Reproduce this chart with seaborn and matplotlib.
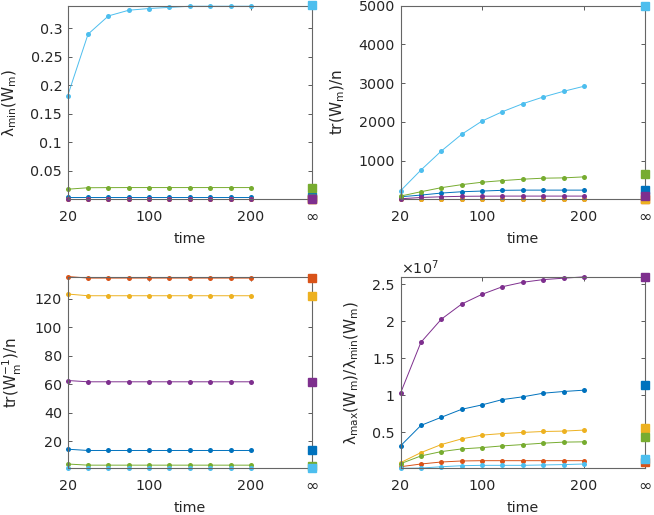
import numpy as np
import pandas as pd
import seaborn as sns
import matplotlib
matplotlib.use('Agg')
import matplotlib.pyplot as plt
from matplotlib.ticker import FuncFormatter

# time steps and the "infinity" position on the x axis
times = [20, 40, 60, 80, 100, 120, 140, 160, 180, 200]
t_inf = 260
series = ['s1', 's2', 's3', 's4', 's5', 's6']
colors = ['#0072BD', '#D95319', '#EDB120', '#7E2F8E', '#77AC30', '#4DBEEE']

# lambda_min(W_m)
lmin = {
    's1': [0.0044] * 10,
    's2': [0.0012] * 10,
    's3': [0.0013] * 10,
    's4': [0.0016] * 10,
    's5': [0.0179, 0.0205, 0.0207, 0.0208, 0.0208, 0.0208, 0.0208, 0.0208, 0.0208, 0.0208],
    's6': [0.182, 0.290, 0.322, 0.332, 0.335, 0.337, 0.339, 0.339, 0.339, 0.339],
}
lmin_inf = [0.0046, 0.0012, 0.0013, 0.0015, 0.0208, 0.3405]

# tr(W_m)/n
trw = {
    's1': [68, 112, 164, 198, 216, 235, 240, 240, 240, 240],
    's2': [4] * 10,
    's3': [5] * 10,
    's4': [16, 50, 68, 80, 84, 86, 86, 86, 86, 86],
    's5': [86, 198, 303, 381, 444, 486, 522, 548, 556, 582],
    's6': [222, 757, 1248, 1680, 2023, 2264, 2470, 2643, 2790, 2920],
}
trw_inf = [235, 3, 3, 94, 661, 5000]

# tr(W_m^-1)/n
trinv = {
    's1': [14.4] + [13.5] * 9,
    's2': [135.6] + [134.5] * 9,
    's3': [123.3] + [122.1] * 9,
    's4': [62.6] + [61.7] * 9,
    's5': [4.0] + [3.2] * 9,
    's6': [1.1] * 10,
}
trinv_inf = [13.5, 134.2, 122.0, 61.5, 2.9, 1.2]

# lambda_max / lambda_min  (units of 1e7)
cond = {
    's1': [0.313, 0.59, 0.70, 0.808, 0.868, 0.94, 0.977, 1.026, 1.049, 1.067],
    's2': [0.031, 0.068, 0.095, 0.109, 0.113, 0.113, 0.113, 0.113, 0.113, 0.113],
    's3': [0.086, 0.222, 0.331, 0.408, 0.459, 0.48, 0.495, 0.508, 0.513, 0.527],
    's4': [1.026, 1.714, 2.027, 2.232, 2.364, 2.467, 2.527, 2.563, 2.582, 2.6],
    's5': [0.072, 0.177, 0.236, 0.272, 0.29, 0.313, 0.331, 0.35, 0.364, 0.368],
    's6': [0.01, 0.013, 0.031, 0.045, 0.05, 0.05, 0.05, 0.055, 0.06, 0.068],
}
cond_inf = [1.14, 0.10, 0.55, 2.605, 0.436, 0.14]

sns.set_style('ticks')
plt.rcParams['font.family'] = ['DejaVu Sans']
plt.rcParams['mathtext.fontset'] = 'dejavusans'
plt.rcParams['text.color'] = '#262626'
plt.rcParams['axes.labelcolor'] = '#262626'

fig = plt.figure(figsize=(6.54, 5.15), dpi=100)
pos = {
    'tl': [0.1035, 0.613, 0.3736, 0.376],
    'tr': [0.6124, 0.613, 0.374, 0.376],
    'bl': [0.1035, 0.0907, 0.3736, 0.3724],
    'br': [0.6124, 0.0907, 0.374, 0.3724],
}


def panel(ax, data, inf_vals, ylim, yticks, ylabel, fmt, scale=1.0):
    long = pd.DataFrame([
        {'time': t, 'value': v * scale, 'series': s}
        for s in series for t, v in zip(times, data[s])
    ])
    sns.lineplot(data=long, x='time', y='value', hue='series', hue_order=series,
                 palette=colors, marker='o', markersize=3.6, markeredgewidth=0,
                 linewidth=0.7, legend=False, ax=ax, clip_on=False)
    for s, c, v in zip(series, colors, inf_vals):
        ax.plot([t_inf], [v * scale], marker='s', color=c, markersize=5.5,
                linestyle='none', clip_on=False, zorder=5)
    ax.set_xlim(20, t_inf)
    ax.set_ylim(ylim[0] * scale, ylim[1] * scale)
    ax.set_xticks([20, 100, 200, t_inf])
    ax.set_xticklabels(['20', '100', '200', '∞'])
    ax.set_yticks([y * scale for y in yticks])
    ax.yaxis.set_major_formatter(FuncFormatter(fmt))
    ax.tick_params(direction='in', top=True, right=True, length=3, width=0.6,
                   color='#404040', labelsize=10.3, labelcolor='#262626')
    ax.tick_params(axis='y', pad=4)
    ax.tick_params(axis='x', pad=8)
    ax.get_xticklabels()[-1].set_fontsize(11.5)
    for sp in ax.spines.values():
        sp.set_visible(True)
        sp.set_linewidth(0.8)
        sp.set_color('#666666')
    ax.set_xlabel('time', fontsize=10.3, labelpad=4.5)
    ax.set_ylabel(ylabel, fontsize=11, labelpad=8)


ax1 = fig.add_axes(pos['tl'])
panel(ax1, lmin, lmin_inf, (0.0002, 0.34), [0.05, 0.1, 0.15, 0.2, 0.25, 0.3],
      r'λ$_{\rm min}$(W$_{\rm m}$)', lambda v, p: '%g' % round(v, 3))

ax2 = fig.add_axes(pos['tr'])
panel(ax2, trw, trw_inf, (3, 5000), [1000, 2000, 3000, 4000, 5000],
      r'tr(W$_{\rm m}$)/n', lambda v, p: '%d' % v)

ax3 = fig.add_axes(pos['bl'])
panel(ax3, trinv, trinv_inf, (1.0, 135.6), [20, 40, 60, 80, 100, 120],
      r'tr(W$_{\rm m}^{-1}$)/n', lambda v, p: '%d' % v)

ax4 = fig.add_axes(pos['br'])
panel(ax4, cond, cond_inf, (0.01, 2.605), [0.5, 1, 1.5, 2, 2.5],
      r'λ$_{\rm max}$(W$_{\rm m}$)/λ$_{\rm min}$(W$_{\rm m}$)',
      lambda v, p: '%g' % round(v / 1e7, 2), scale=1e7)
ax4.text(0.0, 0.998, r'$\times$10$^7$', transform=ax4.transAxes,
         fontsize=10.3, ha='left', va='bottom')

fig.savefig('out.png', dpi=100)
